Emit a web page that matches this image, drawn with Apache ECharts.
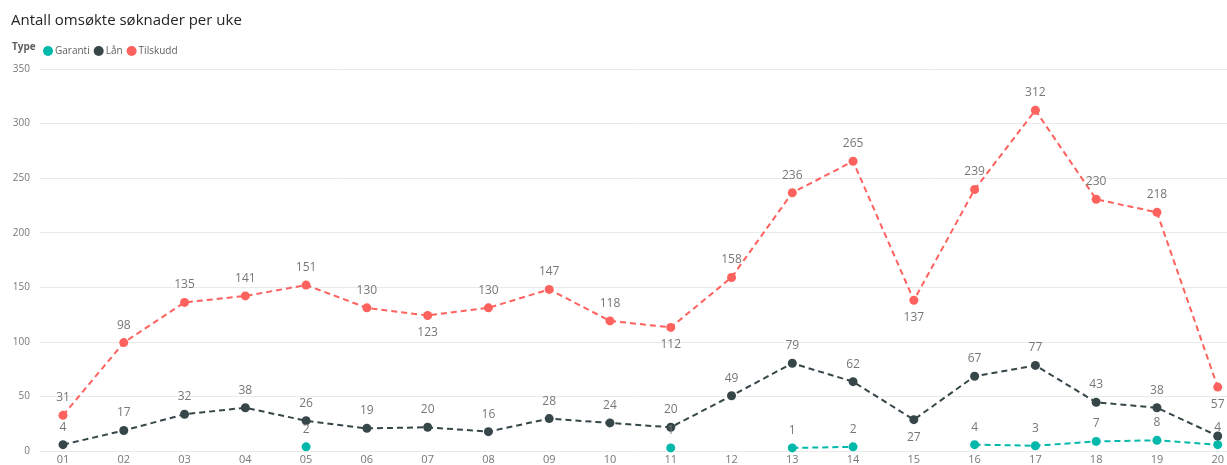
<!DOCTYPE html>
<html>
<head>
<meta charset="utf-8">
<script src="https://cdn.jsdelivr.net/npm/echarts@6/dist/echarts.min.js"></script>
<style>
  html, body { margin: 0; padding: 0; background: #fff; }
  #chart { width: 1227px; height: 465px; }
</style>
</head>
<body>
<div id="chart"></div>
<script>
// uker
const weeks = ['01', '02', '03', '04', '05', '06', '07', '08', '09', '10',
  '11', '12', '13', '14', '15', '16', '17', '18', '19', '20']

const garanti = [null, null, null, null, 2, null, null, null, null, null,
  1, null, 1, 2, null, 4, 3, 7, 8, 4]
const lan = [4, 17, 32, 38, 26, 19, 20, 16, 28, 24,
  20, 49, 79, 62, 27, 67, 77, 43, 38, 12]
const tilskudd = [31, 98, 135, 141, 151, 130, 123, 130, 147, 118,
  112, 158, 236, 265, 137, 239, 312, 230, 218, 57]

// hvor etiketten står under punktet / skjules
const tilskuddBelow = ['07', '11', '15', '20']
const lanBelow = ['15']
const lanHidden = ['20']

const colors = { garanti: '#01B8AA', lan: '#374649', tilskudd: '#FD625E' }
const font = '"Open Sans", "DejaVu Sans", sans-serif'

const toItems = (values, below = [], hidden = []) => values.map((v, i) => {
  const item = { value: v }
  if (below.includes(weeks[i])) item.label = { position: 'bottom' }
  if (hidden.includes(weeks[i])) item.label = { show: false }
  return item
})

const makeSeries = (name, values, color, below, hidden) => ({
  name,
  type: 'line',
  xAxisIndex: 1,
  yAxisIndex: 1,
  data: toItems(values, below, hidden),
  symbol: 'circle',
  symbolSize: 9,
  connectNulls: false,
  lineStyle: { width: 2, type: [6, 4], color },
  itemStyle: { color },
  label: {
    show: true,
    position: 'top',
    distance: 7,
    fontSize: 12,
    color: '#777',
    fontFamily: font
  },
  emphasis: { disabled: true }
})

const chart = echarts.init(document.getElementById('chart'))

chart.setOption({
  animation: false,
  title: {
    text: 'Antall omsøkte søknader per uke',
    left: 6,
    top: 8,
    textStyle: { fontSize: 15, fontWeight: 'normal', color: '#252423', fontFamily: font }
  },
  graphic: [{
    type: 'text',
    left: 12,
    top: 42,
    style: { text: 'Type', fontSize: 10, fontWeight: 'bold', fill: '#605E5C', fontFamily: font }
  }],
  legend: {
    left: 38,
    top: 41,
    itemWidth: 10,
    itemHeight: 10,
    itemGap: 4,
    icon: 'circle',
    textStyle: { fontSize: 10, color: '#605E5C', fontFamily: font, padding: [0, 0, 0, -3] },
    data: ['Garanti', 'Lån', 'Tilskudd']
  },
  grid: [
    { left: 40, right: 0, top: 69, bottom: 14 },
    { left: 63, right: 9, top: 69, bottom: 14 }
  ],
  xAxis: [
    { gridIndex: 0, type: 'category', data: weeks, show: false },
    {
      gridIndex: 1,
      type: 'category',
      data: weeks,
      boundaryGap: false,
      axisLine: { show: false },
      axisTick: { show: false },
      axisLabel: { fontSize: 11, color: '#777', fontFamily: font, margin: 5 }
    }
  ],
  yAxis: [
    {
      gridIndex: 0,
      type: 'value',
      min: 0,
      max: 350,
      interval: 50,
      axisLine: { show: false },
      axisTick: { show: false },
      axisLabel: { fontSize: 10, color: '#777', fontFamily: font, margin: 10 },
      splitLine: { lineStyle: { color: '#EAEAEA', width: 1 } }
    },
    {
      gridIndex: 1,
      type: 'value',
      min: 0,
      max: 350,
      interval: 50,
      show: false,
      splitLine: { show: false }
    }
  ],
  series: [
    makeSeries('Garanti', garanti, colors.garanti),
    makeSeries('Lån', lan, colors.lan, lanBelow, lanHidden),
    makeSeries('Tilskudd', tilskudd, colors.tilskudd, tilskuddBelow)
  ]
})
</script>
</body>
</html>
